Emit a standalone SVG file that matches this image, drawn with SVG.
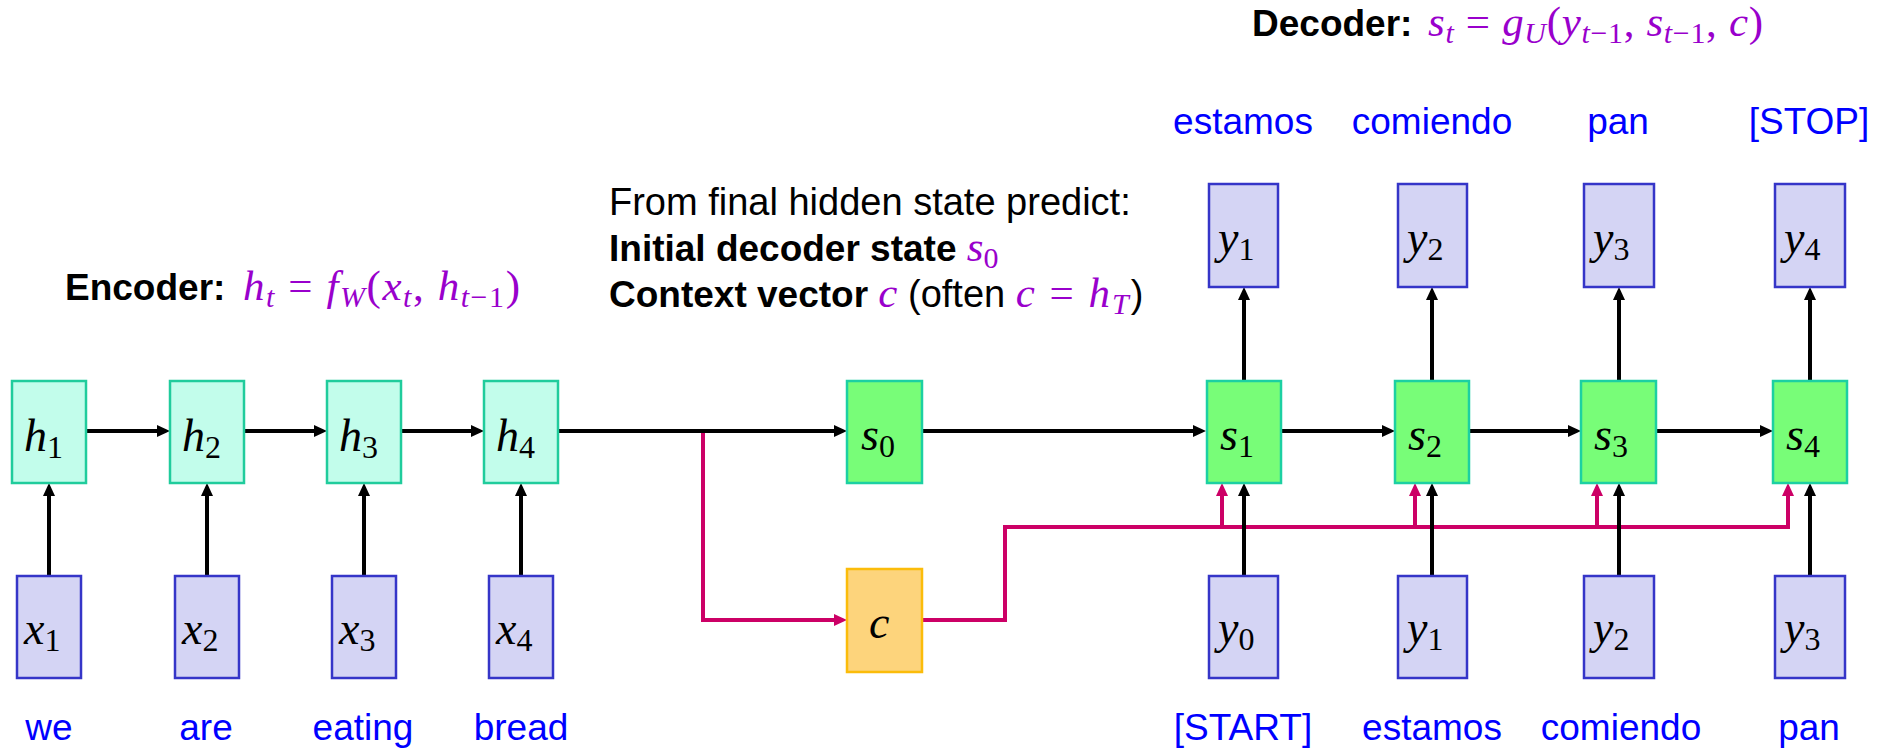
<svg xmlns="http://www.w3.org/2000/svg" width="1895" height="750" viewBox="0 0 1895 750">
  <style>
    .hbox { fill: #c2fdeb; stroke: #20cc9c; stroke-width: 2.5; }
    .sbox { fill: #78fd78; stroke: #1cd0a2; stroke-width: 2.5; }
    .iobox { fill: #d4d4f4; stroke: #3535c8; stroke-width: 2.5; }
    .cbox { fill: #fdd47c; stroke: #fbbc0a; stroke-width: 2.5; }
    .m { font-family: "Liberation Serif", "DejaVu Serif", serif; font-style: italic; font-size: 46px; fill: #000; }
    .sub { font-size: 32px; font-style: normal; }
    .eq { font-family: "Liberation Serif", "DejaVu Serif", serif; font-style: italic; font-size: 43px; fill: #9900cc; }
    .eqs { font-size: 30px; font-style: normal; }
    .eqsi { font-size: 30px; font-style: italic; }
    .up { font-style: normal; }
    .t { font-family: "Liberation Sans", Arial, sans-serif; font-size: 38px; fill: #000; }
    .b { font-weight: bold; font-size: 37px; }
    .word { font-family: "Liberation Sans", Arial, sans-serif; font-size: 37px; fill: #0000ff; text-anchor: middle; }
    .arr { fill: none; stroke: #000; stroke-width: 4; marker-end: url(#ahB); }
    .pk { fill: none; stroke: #cc0066; stroke-width: 4; }
    .pka { fill: none; stroke: #cc0066; stroke-width: 4; marker-end: url(#ahP); }
  </style>
  <defs>
    <marker id="ahB" markerUnits="userSpaceOnUse" markerWidth="14" markerHeight="13" refX="3" refY="6.5" orient="auto">
      <path d="M0,0.5 L13,6.5 L0,12.5 z" fill="#000"/>
    </marker>
    <marker id="ahP" markerUnits="userSpaceOnUse" markerWidth="14" markerHeight="13" refX="3" refY="6.5" orient="auto">
      <path d="M0,0.5 L13,6.5 L0,12.5 z" fill="#cc0066"/>
    </marker>
  </defs>

  <rect width="1895" height="750" fill="#fff"/>

  <!-- headings -->
  <g id="encoder-title">
    <text class="t b" x="65" y="300">Encoder:</text>
    <text class="eq" x="243" y="300" textLength="277" lengthAdjust="spacing">h<tspan class="eqsi" dy="7">t</tspan><tspan class="up" dy="-7"> = </tspan>f<tspan class="eqsi" dy="7">W</tspan><tspan class="up" dy="-7">(</tspan>x<tspan class="eqsi" dy="7">t</tspan><tspan class="up" dy="-7">, </tspan>h<tspan class="eqsi" dy="7">t</tspan><tspan class="eqs">−1</tspan><tspan class="up" dy="-7">)</tspan></text>
  </g>
  <g id="decoder-title">
    <text class="t b" x="1252" y="36">Decoder:</text>
    <text class="eq" x="1428" y="36" textLength="335" lengthAdjust="spacing">s<tspan class="eqsi" dy="7">t</tspan><tspan class="up" dy="-7"> = </tspan>g<tspan class="eqsi" dy="7">U</tspan><tspan class="up" dy="-7">(</tspan>y<tspan class="eqsi" dy="7">t</tspan><tspan class="eqs">−1</tspan><tspan class="up" dy="-7">, </tspan>s<tspan class="eqsi" dy="7">t</tspan><tspan class="eqs">−1</tspan><tspan class="up" dy="-7">, </tspan>c<tspan class="up">)</tspan></text>
  </g>
  <g id="bridge-note">
    <text class="t" x="609" y="215">From final hidden state predict:</text>
    <text class="t b" x="609" y="261">Initial decoder state <tspan class="eq" style="font-weight:normal">s<tspan class="eqs" dy="7">0</tspan></tspan></text>
    <text class="t" x="609" y="307"><tspan class="b">Context vector </tspan><tspan class="eq">c</tspan> (often <tspan class="eq" letter-spacing="2">c<tspan class="up"> = </tspan>h<tspan class="eqsi" dy="7">T</tspan></tspan><tspan dy="-7">)</tspan></text>
  </g>

  <!-- connectors -->
  <g id="connectors">
    <!-- context vector routing -->
    <path class="pka" d="M703,431 V620 H837"/>
    <path class="pk" d="M922,620 H1005 V527 H1788"/>
    <path class="pka" d="M1222,527 V493"/>
    <path class="pka" d="M1415,527 V493"/>
    <path class="pka" d="M1597,527 V493"/>
    <path class="pka" d="M1788,529 V493"/>
    <!-- encoder recurrence -->
    <path class="arr" d="M86,431 H160"/>
    <path class="arr" d="M244,431 H317"/>
    <path class="arr" d="M401,431 H474"/>
    <path class="arr" d="M558,431 H837"/>
    <!-- encoder inputs -->
    <path class="arr" d="M49,576 V493"/>
    <path class="arr" d="M207,576 V493"/>
    <path class="arr" d="M364,576 V493"/>
    <path class="arr" d="M521,576 V493"/>
    <!-- decoder recurrence -->
    <path class="arr" d="M922,431 H1196"/>
    <path class="arr" d="M1281,431 H1385"/>
    <path class="arr" d="M1469,431 H1571"/>
    <path class="arr" d="M1656,431 H1763"/>
    <!-- decoder inputs -->
    <path class="arr" d="M1244,576 V493"/>
    <path class="arr" d="M1432,576 V493"/>
    <path class="arr" d="M1619,576 V493"/>
    <path class="arr" d="M1810,576 V493"/>
    <!-- decoder outputs -->
    <path class="arr" d="M1244,381 V297"/>
    <path class="arr" d="M1432,381 V297"/>
    <path class="arr" d="M1619,381 V297"/>
    <path class="arr" d="M1810,381 V297"/>
  </g>

  <!-- encoder hidden states -->
  <g id="h1"><rect class="hbox" x="12" y="381" width="74" height="102"/><text class="m" x="24" y="451">h<tspan class="sub" dy="7">1</tspan></text></g>
  <g id="h2"><rect class="hbox" x="170" y="381" width="74" height="102"/><text class="m" x="182" y="451">h<tspan class="sub" dy="7">2</tspan></text></g>
  <g id="h3"><rect class="hbox" x="327" y="381" width="74" height="102"/><text class="m" x="339" y="451">h<tspan class="sub" dy="7">3</tspan></text></g>
  <g id="h4"><rect class="hbox" x="484" y="381" width="74" height="102"/><text class="m" x="496" y="451">h<tspan class="sub" dy="7">4</tspan></text></g>

  <!-- encoder inputs -->
  <g id="x1"><rect class="iobox" x="17" y="576" width="64" height="102"/><text class="m" x="24" y="644">x<tspan class="sub" dy="7">1</tspan></text><text class="word" x="49" y="740">we</text></g>
  <g id="x2"><rect class="iobox" x="175" y="576" width="64" height="102"/><text class="m" x="182" y="644">x<tspan class="sub" dy="7">2</tspan></text><text class="word" x="206" y="740">are</text></g>
  <g id="x3"><rect class="iobox" x="332" y="576" width="64" height="102"/><text class="m" x="339" y="644">x<tspan class="sub" dy="7">3</tspan></text><text class="word" x="363" y="740">eating</text></g>
  <g id="x4"><rect class="iobox" x="489" y="576" width="64" height="102"/><text class="m" x="496" y="644">x<tspan class="sub" dy="7">4</tspan></text><text class="word" x="521" y="740">bread</text></g>

  <!-- initial decoder state and context vector -->
  <g id="s0"><rect class="sbox" x="847" y="381" width="75" height="102"/><text class="m" x="861" y="450">s<tspan class="sub" dy="7">0</tspan></text></g>
  <g id="c"><rect class="cbox" x="847" y="569" width="75" height="103"/><text class="m" x="869" y="638">c</text></g>

  <!-- decoder states -->
  <g id="s1"><rect class="sbox" x="1207" y="381" width="74" height="102"/><text class="m" x="1220" y="450">s<tspan class="sub" dy="7">1</tspan></text></g>
  <g id="s2"><rect class="sbox" x="1395" y="381" width="74" height="102"/><text class="m" x="1408" y="450">s<tspan class="sub" dy="7">2</tspan></text></g>
  <g id="s3"><rect class="sbox" x="1581" y="381" width="75" height="102"/><text class="m" x="1594" y="450">s<tspan class="sub" dy="7">3</tspan></text></g>
  <g id="s4"><rect class="sbox" x="1773" y="381" width="74" height="102"/><text class="m" x="1786" y="450">s<tspan class="sub" dy="7">4</tspan></text></g>

  <!-- decoder outputs -->
  <g id="y1-out"><rect class="iobox" x="1209" y="184" width="69" height="103"/><text class="m" x="1218" y="253">y<tspan class="sub" dy="7">1</tspan></text><text class="word" x="1243" y="134">estamos</text></g>
  <g id="y2-out"><rect class="iobox" x="1398" y="184" width="69" height="103"/><text class="m" x="1407" y="253">y<tspan class="sub" dy="7">2</tspan></text><text class="word" x="1432" y="134">comiendo</text></g>
  <g id="y3-out"><rect class="iobox" x="1584" y="184" width="70" height="103"/><text class="m" x="1593" y="253">y<tspan class="sub" dy="7">3</tspan></text><text class="word" x="1618" y="134">pan</text></g>
  <g id="y4-out"><rect class="iobox" x="1775" y="184" width="70" height="103"/><text class="m" x="1784" y="253">y<tspan class="sub" dy="7">4</tspan></text><text class="word" x="1809" y="134">[STOP]</text></g>

  <!-- decoder inputs -->
  <g id="y0-in"><rect class="iobox" x="1209" y="576" width="69" height="102"/><text class="m" x="1218" y="643">y<tspan class="sub" dy="7">0</tspan></text><text class="word" x="1243" y="740">[START]</text></g>
  <g id="y1-in"><rect class="iobox" x="1398" y="576" width="69" height="102"/><text class="m" x="1407" y="643">y<tspan class="sub" dy="7">1</tspan></text><text class="word" x="1432" y="740">estamos</text></g>
  <g id="y2-in"><rect class="iobox" x="1584" y="576" width="70" height="102"/><text class="m" x="1593" y="643">y<tspan class="sub" dy="7">2</tspan></text><text class="word" x="1621" y="740">comiendo</text></g>
  <g id="y3-in"><rect class="iobox" x="1775" y="576" width="70" height="102"/><text class="m" x="1784" y="643">y<tspan class="sub" dy="7">3</tspan></text><text class="word" x="1809" y="740">pan</text></g>
</svg>
